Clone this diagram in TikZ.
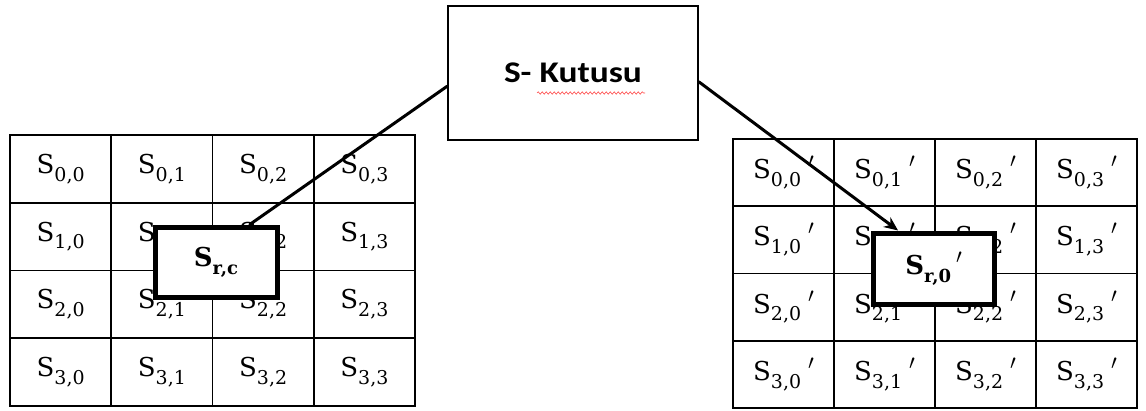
\documentclass[tikz,border=0pt]{standalone}
\usepackage{fontspec}
\setmainfont{DejaVu Serif}
\newfontfamily\titlefont{Carlito}
\usetikzlibrary{arrows.meta,decorations.pathmorphing}

% subscript index, prime and the two kinds of state entries
\newcommand\sidx[1]{\raisebox{-0.30em}{\fontsize{19}{19}\selectfont #1}}
\newcommand\prm{\hspace{7pt}\raisebox{0.42em}{\fontsize{22}{22}\selectfont$\prime$}}
\newcommand\Sij[1]{S\sidx{#1}}
\newcommand\Sijp[1]{S\sidx{#1}\prm}

\begin{document}
\begin{tikzpicture}[x=1pt,y=-1pt,
  cell/.style={draw,line width=1.6pt,inner sep=0pt,
    font=\fontsize{26}{26}\selectfont},
  lcell/.style={cell,minimum width=101.25pt,minimum height=67.75pt},
  rcell/.style={cell,minimum width=101pt,minimum height=67.25pt},
  pick/.style={draw,line width=5pt,fill=white,inner sep=0pt,
    font=\fontsize{26}{26}\selectfont\bfseries},
  sboxstyle/.style={draw,line width=1.6pt,fill=white,inner sep=0pt,
    minimum width=250pt,minimum height=134pt,
    font=\fontsize{30}{30}\titlefont\bfseries},
  link/.style={line width=3pt,line cap=round}]

\useasboundingbox (0,0) rectangle (1146,410);
\fill[white] (0,0) rectangle (1146,410);

% input state array
\foreach \r in {0,...,3}
  \foreach \c in {0,...,3}
    \node[lcell] (L\r\c) at ({10+101.25*\c+50.625},{135+67.75*\r+33.875}) {\Sij{\r,\c}};

% output state array
\foreach \r in {0,...,3}
  \foreach \c in {0,...,3}
    \node[rcell] (R\r\c) at ({733+101*\c+50.5},{139+67.25*\r+33.625}) {\Sijp{\r,\c}};

% S-box
\node[sboxstyle] (sbox) at (573,73) {\scalebox{1.18}[1]{S- Kutusu}};
\draw[red!70,line width=0.6pt,decorate,
  decoration={snake,segment length=4pt,amplitude=1.2pt}] (537,93) -- (645,93);

% selected byte before and after substitution
\node[pick,minimum width=122pt,minimum height=70pt] (src) at (216,262)
  {S\raisebox{-0.30em}{\fontsize{18}{18}\selectfont\bfseries r,c}};
\node[pick,minimum width=121pt,minimum height=71pt] (dst) at (933.5,268.5)
  {S\raisebox{-0.30em}{\fontsize{18}{18}\selectfont\bfseries r,0}\hspace{5pt}\raisebox{0.42em}{\fontsize{22}{22}\selectfont$\prime$}};

% connectors
\draw[link] (sbox.186) -- (src.48.5);
\draw[link,-{Stealth[length=14pt,width=12pt]}] (sbox.-4.6) -- (dst.133.3);
\end{tikzpicture}
\end{document}
